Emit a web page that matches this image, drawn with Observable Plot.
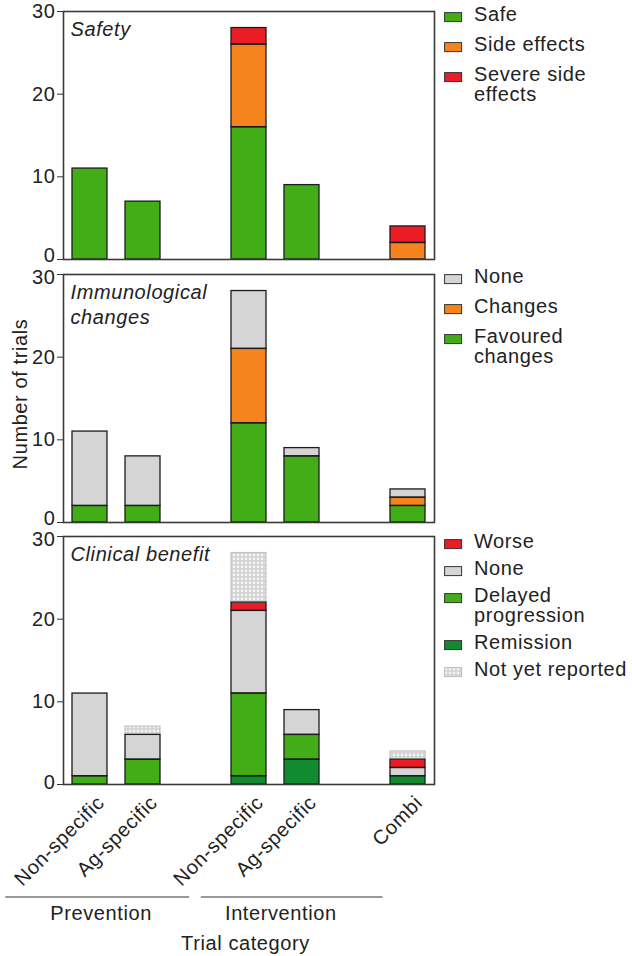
<!DOCTYPE html>
<html><head><meta charset="utf-8">
<script src="https://cdn.jsdelivr.net/npm/d3@7"></script>
<script src="https://cdn.jsdelivr.net/npm/@observablehq/plot@0.6"></script>
<style>
body{margin:0;background:#fff;}
#wrap{position:relative;width:632px;height:956px;overflow:hidden;font-family:"Liberation Sans",Arial,sans-serif;color:#222;letter-spacing:0.6px;}
.plot{position:absolute;left:0;}
.legend{position:absolute;left:444px;}
.item{display:flex;align-items:flex-start;}
.item svg{flex:none;margin-top:8px;}
.item span{font-size:20px;line-height:20px;white-space:pre-line;margin-left:11px;}
</style></head><body>
<svg width="0" height="0" style="position:absolute">
<defs><pattern id="nyr" width="4" height="4" patternUnits="userSpaceOnUse">
<rect width="4" height="4" fill="#d2d2d2"></rect><circle cx="2" cy="2" r="1.4" fill="#f3f3f3"></circle>
</pattern></defs></svg>
<div id="wrap"></div>
<script>
// ---------- data ----------
const categories = ["Prev-NS","Prev-Ag","gap1","Int-NS","Int-Ag","gap2","Combi"];
const categoryLabels = ["Non-specific","Ag-specific","","Non-specific","Ag-specific","","Combi"];
const barCategories = ["Prev-NS","Prev-Ag","Int-NS","Int-Ag","Combi"];
const groupNames = ["Prevention","Intervention"];
const groupFirst = ["Prev-NS","Int-NS"];
const groupLast = ["Prev-Ag","Int-Ag"];
const yTicks = [0,10,20,30];
const yLabel = "Number of trials";
const xLabel = "Trial category";
const panelTitles = ["Safety","Immunological\nchanges","Clinical benefit"];

// Safety (stack order bottom -> top)
const safetyOutcomes = ["Safe","Side effects","Severe side effects"];
const safetySafe   = [11,7,16,9,0];
const safetySide   = [0,0,10,0,2];
const safetySevere = [0,0,2,0,2];
const safetyLegend = ["Safe","Side effects","Severe side effects"];
const safetyLegendText = ["Safe","Side effects","Severe side\neffects"];

// Immunological changes
const immunoOutcomes = ["Favoured changes","Changes","None"];
const immunoFavoured = [2,2,12,8,2];
const immunoChanges  = [0,0,9,0,1];
const immunoNone     = [9,6,7,1,1];
const immunoLegend = ["None","Changes","Favoured changes"];
const immunoLegendText = ["None","Changes","Favoured\nchanges"];

// Clinical benefit
const clinicalOutcomes = ["Remission","Delayed progression","None","Worse","Not yet reported"];
const clinicalRemission = [0,0,1,3,1];
const clinicalDelayed   = [1,3,10,3,0];
const clinicalNone      = [10,3,10,3,1];
const clinicalWorse     = [0,0,1,0,1];
const clinicalNYR       = [0,1,6,0,1];
const clinicalLegend = ["Worse","None","Delayed progression","Remission","Not yet reported"];
const clinicalLegendText = ["Worse","None","Delayed\nprogression","Remission","Not yet reported"];

// ---------- styles ----------
const outcomeNames = ["Safe","Side effects","Severe side effects","Favoured changes","Changes","None","Remission","Delayed progression","Worse","Not yet reported"];
const outcomeFills = ["#42ad17","#f5841f","#ec1c24","#42ad17","#f5841f","#d5d5d5","#118a30","#42ad17","#ec1c24","url(#nyr)"];
const fillOf = new Map(outcomeNames.map((n,i)=>[n,outcomeFills[i]]));
const NYR = "Not yet reported";
const labelOf = new Map(categories.map((c,i)=>[c,categoryLabels[i]]));

const panels = [
  {outcomes: safetyOutcomes, series:[safetySafe,safetySide,safetySevere], legend: safetyLegend, legendText: safetyLegendText, top:0, legendTop:3.5, gap:30},
  {outcomes: immunoOutcomes, series:[immunoFavoured,immunoChanges,immunoNone], legend: immunoLegend, legendText: immunoLegendText, top:263, legendTop:265.5, gap:30},
  {outcomes: clinicalOutcomes, series:[clinicalRemission,clinicalDelayed,clinicalNone,clinicalWorse,clinicalNYR], legend: clinicalLegend, legendText: clinicalLegendText, top:525, legendTop:531, gap:27}
];

const wrap = document.getElementById("wrap");
const charts = [];
const yMin = d3.min(yTicks), yMax = d3.max(yTicks);
const yMid = yTicks.filter(t => t !== yMin && t !== yMax);

panels.forEach((p, k) => {
  const last = k === panels.length - 1;
  const first = k === 0;
  const rows = p.outcomes.flatMap((o,i)=>barCategories.map((c,j)=>({cat:c, outcome:o, value:p.series[i][j]}))).filter(d=>d.value>0);
  const tickText = (vals, dy) => Plot.text(vals, {y: d=>d, text: d=>String(d), frameAnchor:"left", textAnchor:"end", dx:-8, dy, fontSize:20, fill:"#222"});
  const chart = Plot.plot({
    width: 440,
    height: last ? 431 : 263,
    marginLeft: 63, marginRight: 6, marginTop: 11, marginBottom: last ? 172 : 4,
    style: {fontFamily:'"Liberation Sans",Arial,sans-serif', fontSize:"20px", color:"#222", background:"transparent", overflow:"visible", letterSpacing:"0.6px"},
    x: {domain: categories, paddingInner: 0.34, paddingOuter: 0.17, axis: null},
    y: {domain: [yMin, yMax], axis: null},
    color: {type: "identity"},
    marks: [
      Plot.barY(rows, {x:"cat", y:"value", fill: d=>fillOf.get(d.outcome), stroke: d=> d.outcome===NYR ? "#c4c4c4" : "none", strokeWidth:1.2}),
      Plot.barY(rows, {x:"cat", y:"value", fill: "none", stroke: d=> d.outcome===NYR ? "none" : "#1c1c1c", strokeWidth:1.3}),
      Plot.frame({stroke:"#3a3a3a", strokeWidth:1.6}),
      Plot.axisY({ticks: yTicks, tickSize: 6, tickFormat: () => "", label: null, stroke:"#333"}),
      tickText(yMid, 0),
      tickText([yMax], first ? 0 : 3),
      tickText([yMin], last ? -2 : -4),
      last ? Plot.axisX({ticks: barCategories, tickFormat: d=>labelOf.get(d), tickRotate: -45, tickSize: 0, tickPadding: 15, dx: 11, label: null, fontSize: 20}) : null,
      Plot.text([panelTitles[k]], {frameAnchor:"top-left", text: d=>d, dx: 7, dy: 7, textAnchor:"start", lineAnchor:"top", lineHeight: 1.25, fontStyle:"italic", fontSize: 20, fill:"#222"})
    ]
  });
  chart.classList.add("plot");
  chart.style.top = p.top + "px";
  wrap.appendChild(chart);
  charts.push(chart);

  // legend
  const lg = document.createElement("div");
  lg.className = "legend";
  lg.style.top = p.legendTop + "px";
  p.legend.forEach((name, i) => {
    const it = document.createElement("div");
    it.className = "item";
    it.style.marginBottom = (p.gap - 20) + "px";
    const sw = d3.create("svg").attr("width",19).attr("height",11);
    sw.append("rect").attr("x",0.6).attr("y",0.6).attr("width",17).attr("height",9)
      .attr("fill", fillOf.get(name)).attr("stroke", name===NYR ? "#bdbdbd" : "#333").attr("stroke-width",1);
    it.appendChild(sw.node());
    const sp = document.createElement("span");
    sp.textContent = p.legendText[i];
    it.appendChild(sp);
    lg.appendChild(it);
  });
  wrap.appendChild(lg);
});

// ---------- overlay: shared y label, groups, x label ----------
const sx = charts[2].scale("x");
const bw = sx.bandwidth, step = sx.step;
const ov = d3.select(wrap).append("svg").attr("width",632).attr("height",956)
  .style("position","absolute").style("left","0px").style("top","0px").style("pointer-events","none")
  .style("font-family",'"Liberation Sans",Arial,sans-serif').style("font-size","20px").style("letter-spacing","0.6px");
ov.append("text").attr("transform","translate(27,394) rotate(-90)").attr("text-anchor","middle").attr("fill","#222").text(yLabel);

const lineExt = [[-1.26, 0.55], [-0.57, 1.2]];
const labelShift = [-0.28, 0.11];
groupNames.forEach((g, i) => {
  const a = sx.apply(groupFirst[i]);
  const b = sx.apply(groupLast[i]) + bw;
  ov.append("line").attr("x1", a + lineExt[i][0]*step).attr("x2", b + lineExt[i][1]*step)
    .attr("y1", 897).attr("y2", 897).attr("stroke","#777").attr("stroke-width",1.5);
  ov.append("text").attr("x", (a+b)/2 + labelShift[i]*step).attr("y", 920).attr("text-anchor","middle").attr("fill","#222").text(g);
});
ov.append("text").attr("x", 63 + (434-63)/2 - 3).attr("y", 950).attr("text-anchor","middle").attr("fill","#222").text(xLabel);
</script>
</body></html>
